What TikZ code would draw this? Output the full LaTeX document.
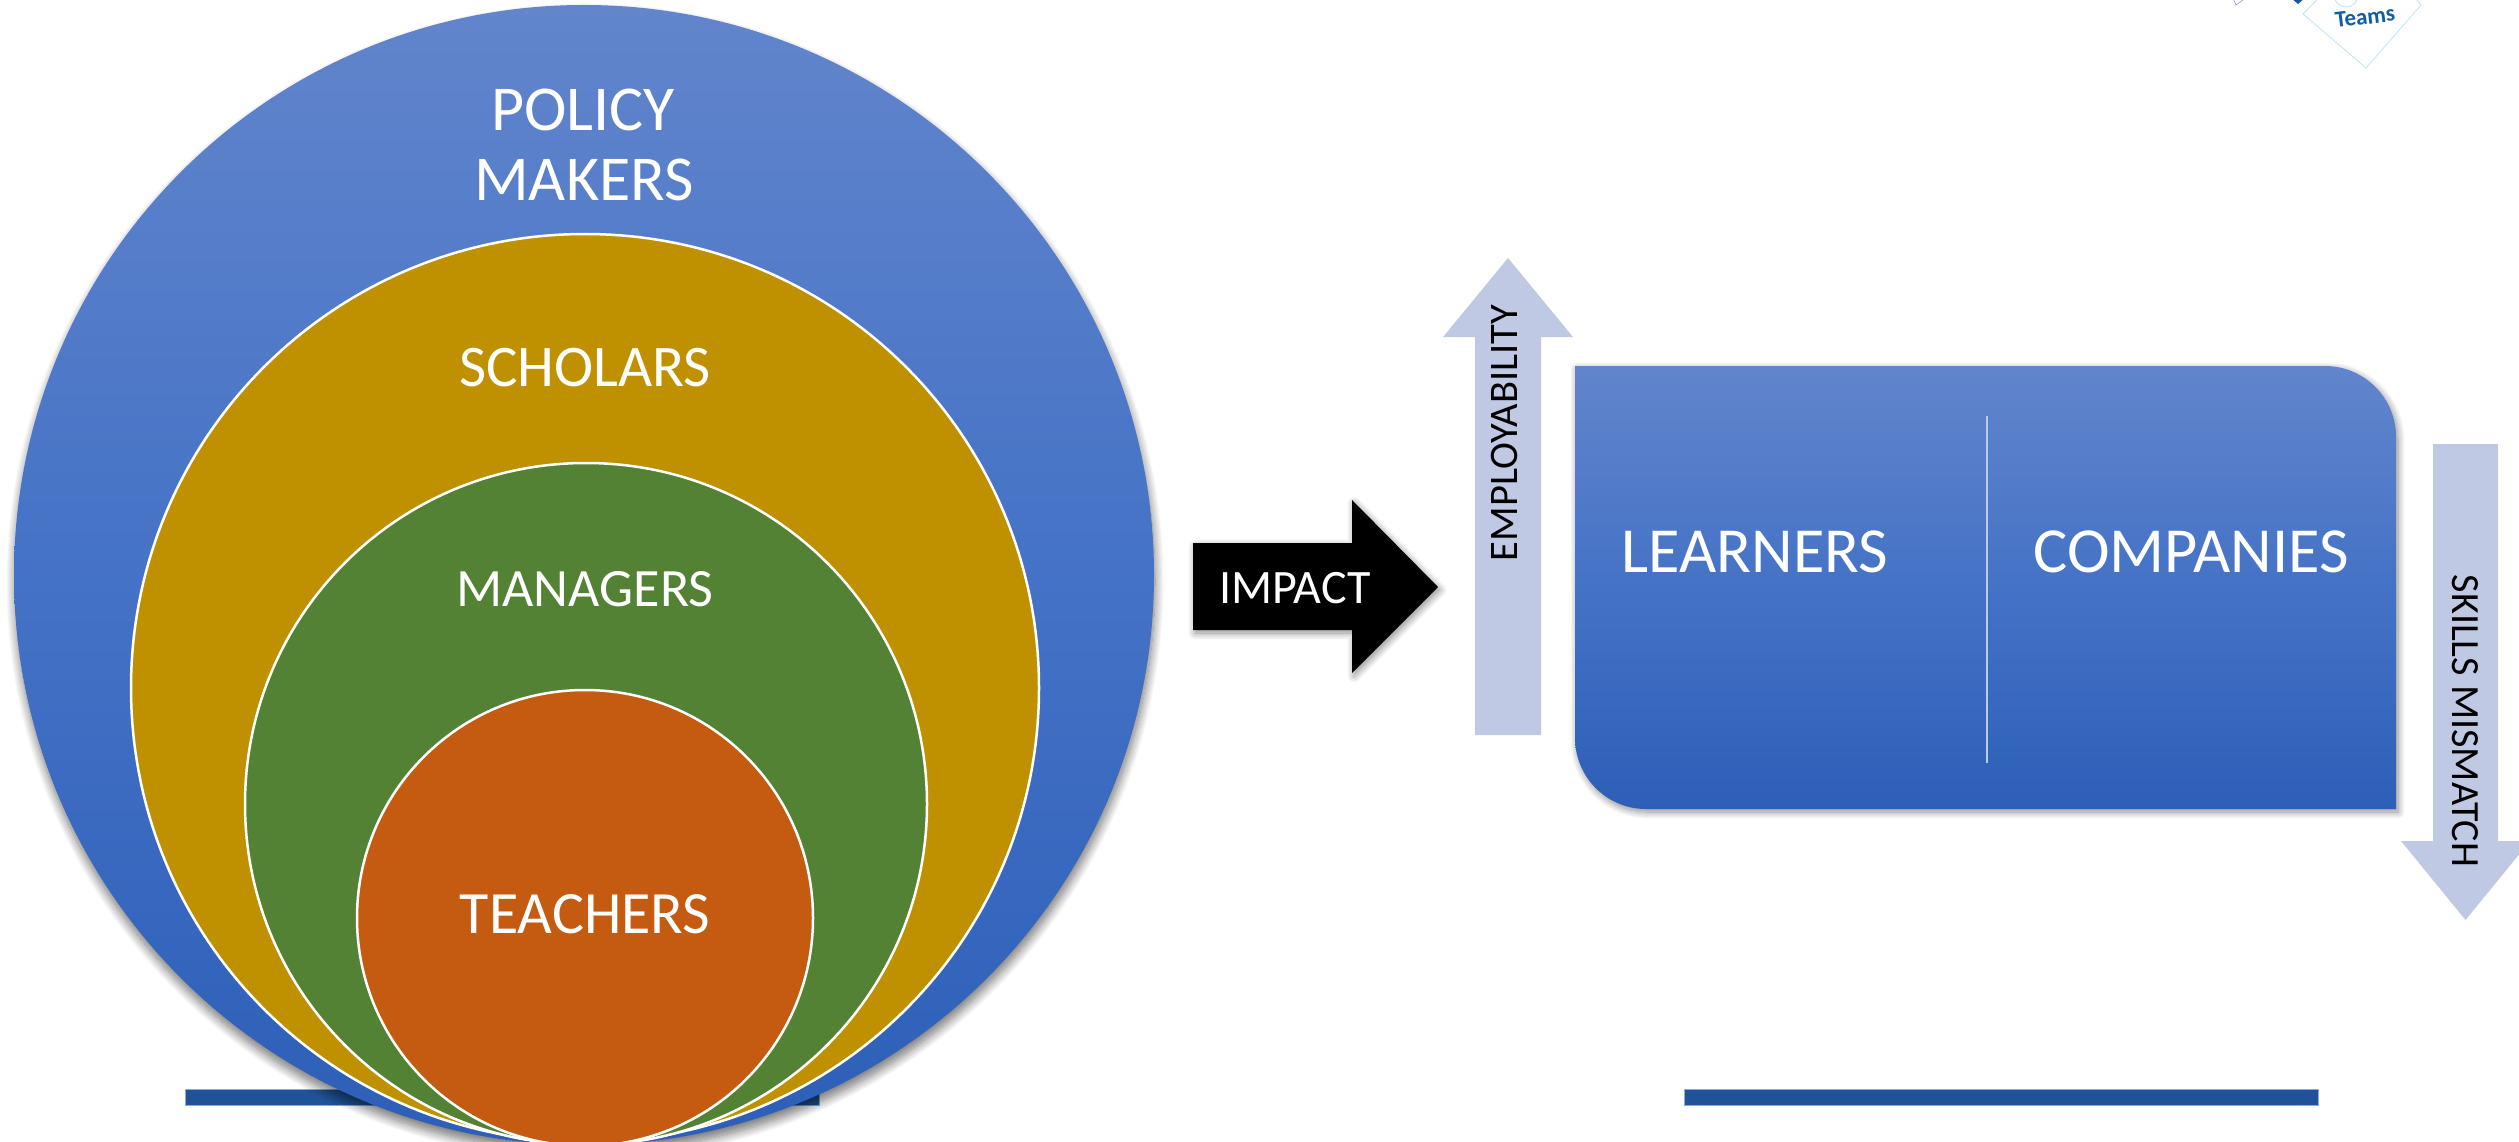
\documentclass[tikz,border=0pt]{standalone}
\usepackage{fontspec}
\setmainfont{Carlito}
\usetikzlibrary{shadows.blur}
\definecolor{bluetop}{HTML}{6285CC}
\definecolor{bluebot}{HTML}{2D5FB8}
\definecolor{bluemid}{HTML}{4472C6}
\definecolor{goldc}{HTML}{BF9000}
\definecolor{greenc}{HTML}{548235}
\definecolor{orangec}{HTML}{C55A11}
\definecolor{paleblue}{HTML}{BFC9E3}
\definecolor{barblue}{HTML}{1F5296}
\definecolor{baredge}{HTML}{8FAADC}
\definecolor{logoline}{HTML}{BDE3F5}
\definecolor{logotext}{HTML}{0F5FA8}
\definecolor{logonavy}{HTML}{1F4E9E}
\definecolor{logothin}{HTML}{8FA3CF}
\tikzset{
  softshadow/.style={blur shadow={shadow xshift=2pt,shadow yshift=-3pt,shadow blur radius=7pt,shadow opacity=45,shadow blur steps=12}},
  bigshadow/.style={blur shadow={shadow xshift=1pt,shadow yshift=-7pt,shadow blur radius=9pt,shadow opacity=55,shadow blur steps=14}},
  disc/.style={circle,inner sep=0pt,outer sep=0pt,draw=white,line width=2.5pt},
  bluefill/.style={top color=bluetop,bottom color=bluebot,middle color=bluemid},
  lowbar/.style={fill=barblue,draw=baredge,line width=0.7pt},
  palearrow/.style={fill=paleblue,draw=none},
  lab/.style={anchor=base,inner sep=0pt,text=white},
  darklab/.style={anchor=base,inner sep=0pt,text=black},
}
\newcommand{\fsz}[1]{\fontsize{#1pt}{#1pt}\selectfont}
\begin{document}
\begin{tikzpicture}[x=1pt,y=-1pt]
\useasboundingbox (0,0) rectangle (2519,1142);
\clip (0,0) rectangle (2519,1142);
% bars
\node[lowbar,draw,minimum width=634pt,minimum height=16pt,inner sep=0pt] (barL) at (502,1097) {};
\node[lowbar,draw,minimum width=634pt,minimum height=16pt,inner sep=0pt] (barR) at (2001,1097) {};
% circles
\node[disc,bluefill,draw=none,bigshadow,minimum size=1140pt] (policy) at (584,575) {};
\node[disc,fill=goldc,minimum size=908pt] (scholars) at (585,688) {};
\node[disc,fill=greenc,minimum size=682pt] (managers) at (586,804) {};
\node[disc,fill=orangec,minimum size=456pt] (teachers) at (585,918) {};
\node[lab,font=\fsz{64}] (t1) at (583,131) {POLICY};
\node[lab,font=\fsz{64}] (t2) at (584,201) {MAKERS};
\node[lab,font=\fsz{59}] (t3) at (585,386) {SCHOLARS};
\node[lab,font=\fsz{54}] (t4) at (585,606) {MANAGERS};
\node[lab,font=\fsz{60}] (t5) at (585,933) {TEACHERS};
% impact arrow
\fill[black,softshadow] (1193,543) -- (1352,543) -- (1352,500) -- (1438,587) -- (1352,673) -- (1352,630) -- (1193,630) -- cycle;
\node[lab,font=\fsz{48}] (impact) at (1295,603) {IMPACT};
% pale arrows
\fill[palearrow] (1475,735) -- (1475,337) -- (1443,337) -- (1508,258) -- (1573,337) -- (1541,337) -- (1541,735) -- cycle;
\node[darklab,font=\fsz{40.5},rotate=90] (employ) at (1517,433) {EMPLOYABILITY};
\fill[palearrow] (2433,444) -- (2498,444) -- (2498,841) -- (2530,841) -- (2465.5,920) -- (2401,841) -- (2433,841) -- cycle;
\node[darklab,font=\fsz{40},rotate=-90] (skills) at (2452,721) {SKILLS MISMATCH};
% main box
\path[bluefill,softshadow] (1575,366) -- (2325,366) arc[start angle=90,end angle=0,radius=71,y radius=-71] -- (2396,809) -- (1646,809) arc[start angle=270,end angle=180,radius=71,y radius=-71] -- cycle;
\coordinate (divT) at (1987,416);
\coordinate (divB) at (1987,763);
\draw[paleblue,line width=2.5pt] (divT) -- (divB);
\node[lab,font=\fsz{64.3}] (learners) at (1755,572) {LEARNERS};
\node[lab,font=\fsz{64.3}] (companies) at (2191,572) {COMPANIES};
% logo fragment
\draw[logoline,line width=0.8pt] (2346,-30) -- (2303,14) -- (2366,68) -- (2421,5) -- (2400,-20);
\draw[logoline,line width=0.8pt] (2358,-5) arc[start angle=0,end angle=-180,radius=12,y radius=-12];
\node[anchor=center,inner sep=0pt,text=logotext,font=\bfseries\fsz{23},rotate=7] (teamslogo) at (2365,17) {Teams};
\fill[logonavy] (2290,-3) -- (2306,-3) -- (2298,4) -- cycle;
\draw[logothin,line width=0.7pt] (2233,-2) -- (2236,5) -- (2243,0);
\end{tikzpicture}
\end{document}
